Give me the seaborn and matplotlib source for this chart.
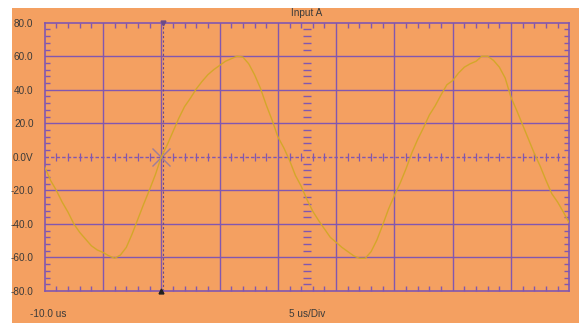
import numpy as np
import pandas as pd
import seaborn as sns
import matplotlib
matplotlib.use("Agg")
import matplotlib.pyplot as plt
from matplotlib.patches import Rectangle

# Captured trace of Input A: time in microseconds, amplitude in volts
time_us = [
    -10.0, -9.5, -9.0, -8.5, -8.0, -7.5, -7.0, -6.5, -6.0, -5.5,
    -5.0, -4.5, -4.0, -3.5, -3.0, -2.5, -2.0, -1.5, -1.0, -0.5,
    0.0, 0.5, 1.0, 1.5, 2.0, 2.5, 3.0, 3.5, 4.0, 4.5,
    5.0, 5.5, 6.0, 6.5, 7.0, 7.5, 8.0, 8.5, 9.0, 9.5,
    10.0, 10.5, 11.0, 11.5, 12.0, 12.5, 13.0, 13.5, 14.0, 14.5,
    15.0, 15.5, 16.0, 16.5, 17.0, 17.5, 18.0, 18.5, 19.0, 19.5,
    20.0, 20.5, 21.0, 21.5, 22.0, 22.5, 23.0, 23.5, 24.0, 24.5,
    25.0, 25.5, 26.0, 26.5, 27.0, 27.5, 28.0, 28.5, 29.0, 29.5,
    30.0, 30.5, 31.0, 31.5, 32.0, 32.5, 33.0, 33.5, 34.0, 34.5, 35.0,
]
volts = [
    -6.0, -14.0, -20.0, -27.0, -33.0, -40.0, -45.0, -49.0, -53.0, -55.5,
    -57.0, -59.0, -60.5, -58.5, -54.0, -46.0, -37.0, -28.0, -19.5, -10.5,
    0.0, 7.0, 15.0, 23.0, 30.0, 35.0, 40.5, 45.0, 49.0, 52.0,
    54.5, 57.0, 58.5, 60.0, 59.5, 55.5, 49.0, 41.0, 31.0, 22.0,
    12.0, 5.5, -2.0, -11.0, -17.5, -25.5, -32.5, -38.0, -43.0, -48.0,
    -51.0, -54.0, -56.5, -59.0, -60.5, -60.5, -56.5, -49.5, -40.5, -31.0,
    -23.0, -15.5, -7.0, 2.5, 10.5, 17.5, 25.0, 30.5, 37.0, 43.0,
    45.5, 50.0, 53.5, 55.5, 57.0, 60.0, 60.0, 57.5, 53.5, 47.0,
    35.5, 27.5, 19.0, 10.5, 2.0, -5.5, -14.0, -22.0, -27.0, -33.0, -39.5,
]

y_ticks = [80, 60, 40, 20, 0, -20, -40, -60, -80]
y_tick_labels = ["80.0", "60.0", "40.0", "20.0", "0.0V", "-20.0", "-40.0", "-60.0", "-80.0"]
x_start_label = "-10.0 us"
timebase_label = "5 us/Div"
channel_title = "Input A"

BG = "#F4A061"
GRID = "#8157B0"
TRACE = "#D4A72A"
TEXT = "#3A3A3A"

sns.set_style("white")
plt.rcParams["font.family"] = ["Liberation Sans", "DejaVu Sans"]

fig = plt.figure(figsize=(5.79, 3.23), dpi=100)
fig.patch.set_facecolor("white")
# Instrument panel background
fig.add_artist(Rectangle((12 / 579, 0), 1 - 12 / 579, 1 - 8 / 323,
                         transform=fig.transFigure, facecolor=BG,
                         edgecolor="none", zorder=0))

ax = fig.add_axes([44.7 / 579, 1 - 291 / 323, (569.3 - 44.7) / 579, (291 - 22.7) / 323])
ax.set_facecolor(BG)

x_lo, x_hi = -10.0, 35.0
y_lo, y_hi = -80.0, 80.0
ax.set_xlim(x_lo, x_hi)
ax.set_ylim(y_lo, y_hi)

x_major = np.arange(x_lo, x_hi + 0.01, 5.0)
x_minor = [x for x in np.arange(x_lo, x_hi + 0.01, 1.0) if abs((x - x_lo) % 5) > 1e-6]
y_minor = [y for y in np.arange(y_lo, y_hi + 0.01, 4.0) if abs(y % 20) > 1e-6]

# Graticule
for x in x_major[1:-1]:
    ax.axvline(x, color=GRID, lw=1.0, zorder=1)
for y in y_ticks[1:-1]:
    if y != 0:
        ax.axhline(y, color=GRID, lw=1.0, zorder=1)
ax.axhline(0, color=GRID, lw=1.0, ls=(0, (2.5, 1.5)), zorder=1)

# Sub-division marks along the centre horizontal and vertical
x_center = (x_lo + x_hi) / 2
ax.plot(x_minor, [0] * len(x_minor), ls="none", marker="|", ms=6, mew=0.9, color=GRID, zorder=2)
ax.plot([x_center] * len(y_minor), y_minor, ls="none", marker="_", ms=5.5, mew=1.0, color=GRID, zorder=2)

for s in ax.spines.values():
    s.set_color(GRID)
    s.set_linewidth(1.2)

ax.set_xticks(x_major)
ax.set_xticks(x_minor, minor=True)
ax.set_yticks(y_ticks)
ax.set_yticklabels(y_tick_labels)
ax.set_yticks(y_minor, minor=True)
ax.tick_params(which="major", length=0, labelsize=7.2, labelcolor=TEXT, pad=8)
ax.tick_params(axis="x", which="major", labelbottom=False)
ax.tick_params(which="minor", direction="in", length=3.5, width=1.0, color=GRID,
               top=True, bottom=True, left=True, right=True)

# Trigger position
ax.axvline(0.15, color="#6A4A8A", lw=0.8, ls=(0, (2, 2)), zorder=2, ymax=1.0)
ax.plot([0.15], [y_hi], marker="v", ms=3.5, color="#6A4A8A", clip_on=False, zorder=4)
ax.plot([0.0], [y_lo], marker="^", ms=3.5, color="#202020", clip_on=False, zorder=4)
ax.plot([0.0], [0.0], marker="x", ms=13, mew=1.0, color="#9C7C9C", zorder=3)

# Signal trace
df = pd.DataFrame({"time": time_us, "volts": volts})
sns.lineplot(data=df, x="time", y="volts", color=TRACE, lw=1.0, ax=ax, zorder=5)
ax.set_xlabel("")
ax.set_ylabel("")

fig.text(307 / 579, 1 - 13 / 323, channel_title, ha="center", va="center",
         fontsize=7.2, color=TEXT)
fig.text(30 / 579, 1 - 314 / 323, x_start_label, ha="left", va="center",
         fontsize=7.2, color=TEXT)
fig.text(307 / 579, 1 - 314 / 323, timebase_label, ha="center", va="center",
         fontsize=7.2, color=TEXT)

fig.savefig("out.png", dpi=100, facecolor=fig.get_facecolor())
